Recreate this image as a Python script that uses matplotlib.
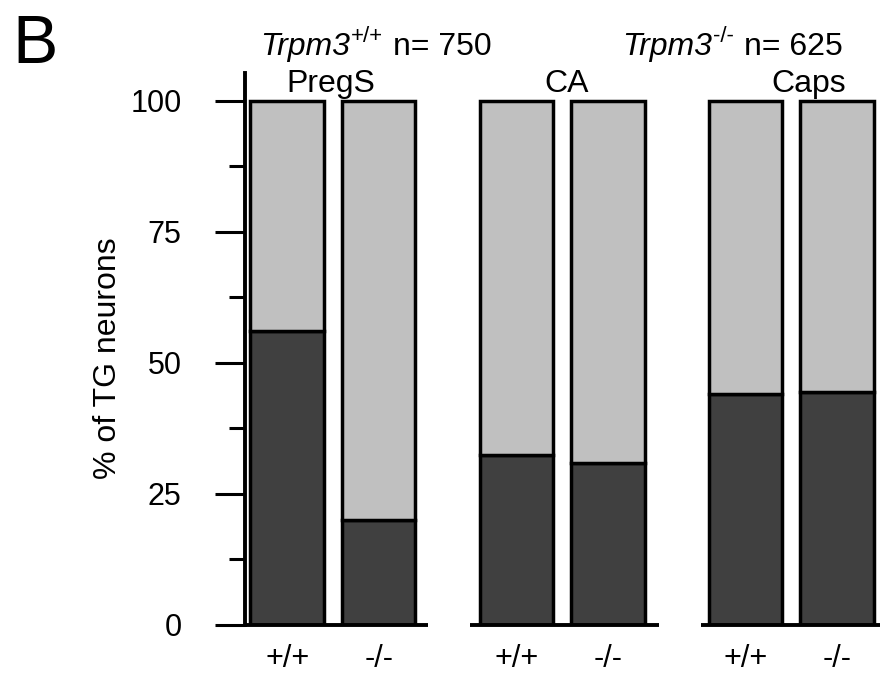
import matplotlib
matplotlib.use('Agg')
import matplotlib.pyplot as plt
import numpy as np

groups = ['PregS', 'CA', 'Caps']
responders = [56.0, 20.0, 32.4, 30.9, 44.1, 44.5]   # % responding (dark part)
positions = [0, 1, 2.5, 3.5, 5, 6]
xticklabels = ['+/+', '-/-', '+/+', '-/-', '+/+', '-/-']
headers = [('+/+', 'n= 750'), ('-/-', 'n= 625')]

plt.rcParams.update({'font.family': ['Liberation Sans', 'DejaVu Sans'], 'font.size': 22})

W, H = 880, 673
fig = plt.figure(figsize=(8.8, 6.73), dpi=100)
ax = fig.add_axes([245/W, 1 - 625/H, 635/W, (625 - 73)/H])

resp = np.array(responders)
ax.bar(positions, resp, 0.8, color='#404040', edgecolor='black', linewidth=2.5)
ax.bar(positions, 100 - resp, 0.8, bottom=resp, color='#c0c0c0', edgecolor='black', linewidth=2.5)

ax.set_xlim(-0.46, 6.47)
ax.set_ylim(0, 105.3)
ax.set_yticks([0, 25, 50, 75, 100])
ax.set_yticks([12.5, 37.5, 62.5, 87.5], minor=True)
ax.set_xticks(positions)
ax.set_xticklabels(xticklabels)
ax.tick_params(axis='x', length=0, pad=14)
ax.tick_params(axis='y', which='major', length=21.6, width=2.2, pad=24)
ax.tick_params(axis='y', which='minor', length=11.5, width=2.2)

for s in ['top', 'right', 'bottom']:
    ax.spines[s].set_visible(False)
ax.spines['left'].set_linewidth(2.8)

# segmented baseline under each group
for a, b in [(-0.46, 1.54), (2.0, 4.06), (4.52, 6.47)]:
    ax.plot([a, b], [0, 0], color='black', linewidth=2.8, clip_on=False, solid_capstyle='butt')

fig.text(108/W, 1 - 358/H, '% of TG neurons', rotation=90, ha='center', va='center', fontsize=23)
fig.text(12/W, 1 - 63/H, 'B', fontsize=49, ha='left', va='baseline')

# headers: italic gene name, superscript genotype, count
renderer = fig.canvas.get_renderer()
for (sup, count), x0 in zip(headers, [260, 622]):
    t = fig.text(x0/W, 1 - 55/H, 'Trpm3', style='italic', fontsize=23, ha='left', va='baseline')
    x1 = t.get_window_extent(renderer).x1
    t = fig.text((x1 + 1)/W, 1 - 42/H, sup, fontsize=16, ha='left', va='baseline')
    x2 = t.get_window_extent(renderer).x1
    fig.text((x2 + 10)/W, 1 - 55/H, count, fontsize=23, ha='left', va='baseline')

for lab, px in zip(groups, [331, 567, 809]):
    fig.text(px/W, 1 - 92/H, lab, ha='center', va='baseline', fontsize=23)

fig.savefig('out.png', dpi=100)
